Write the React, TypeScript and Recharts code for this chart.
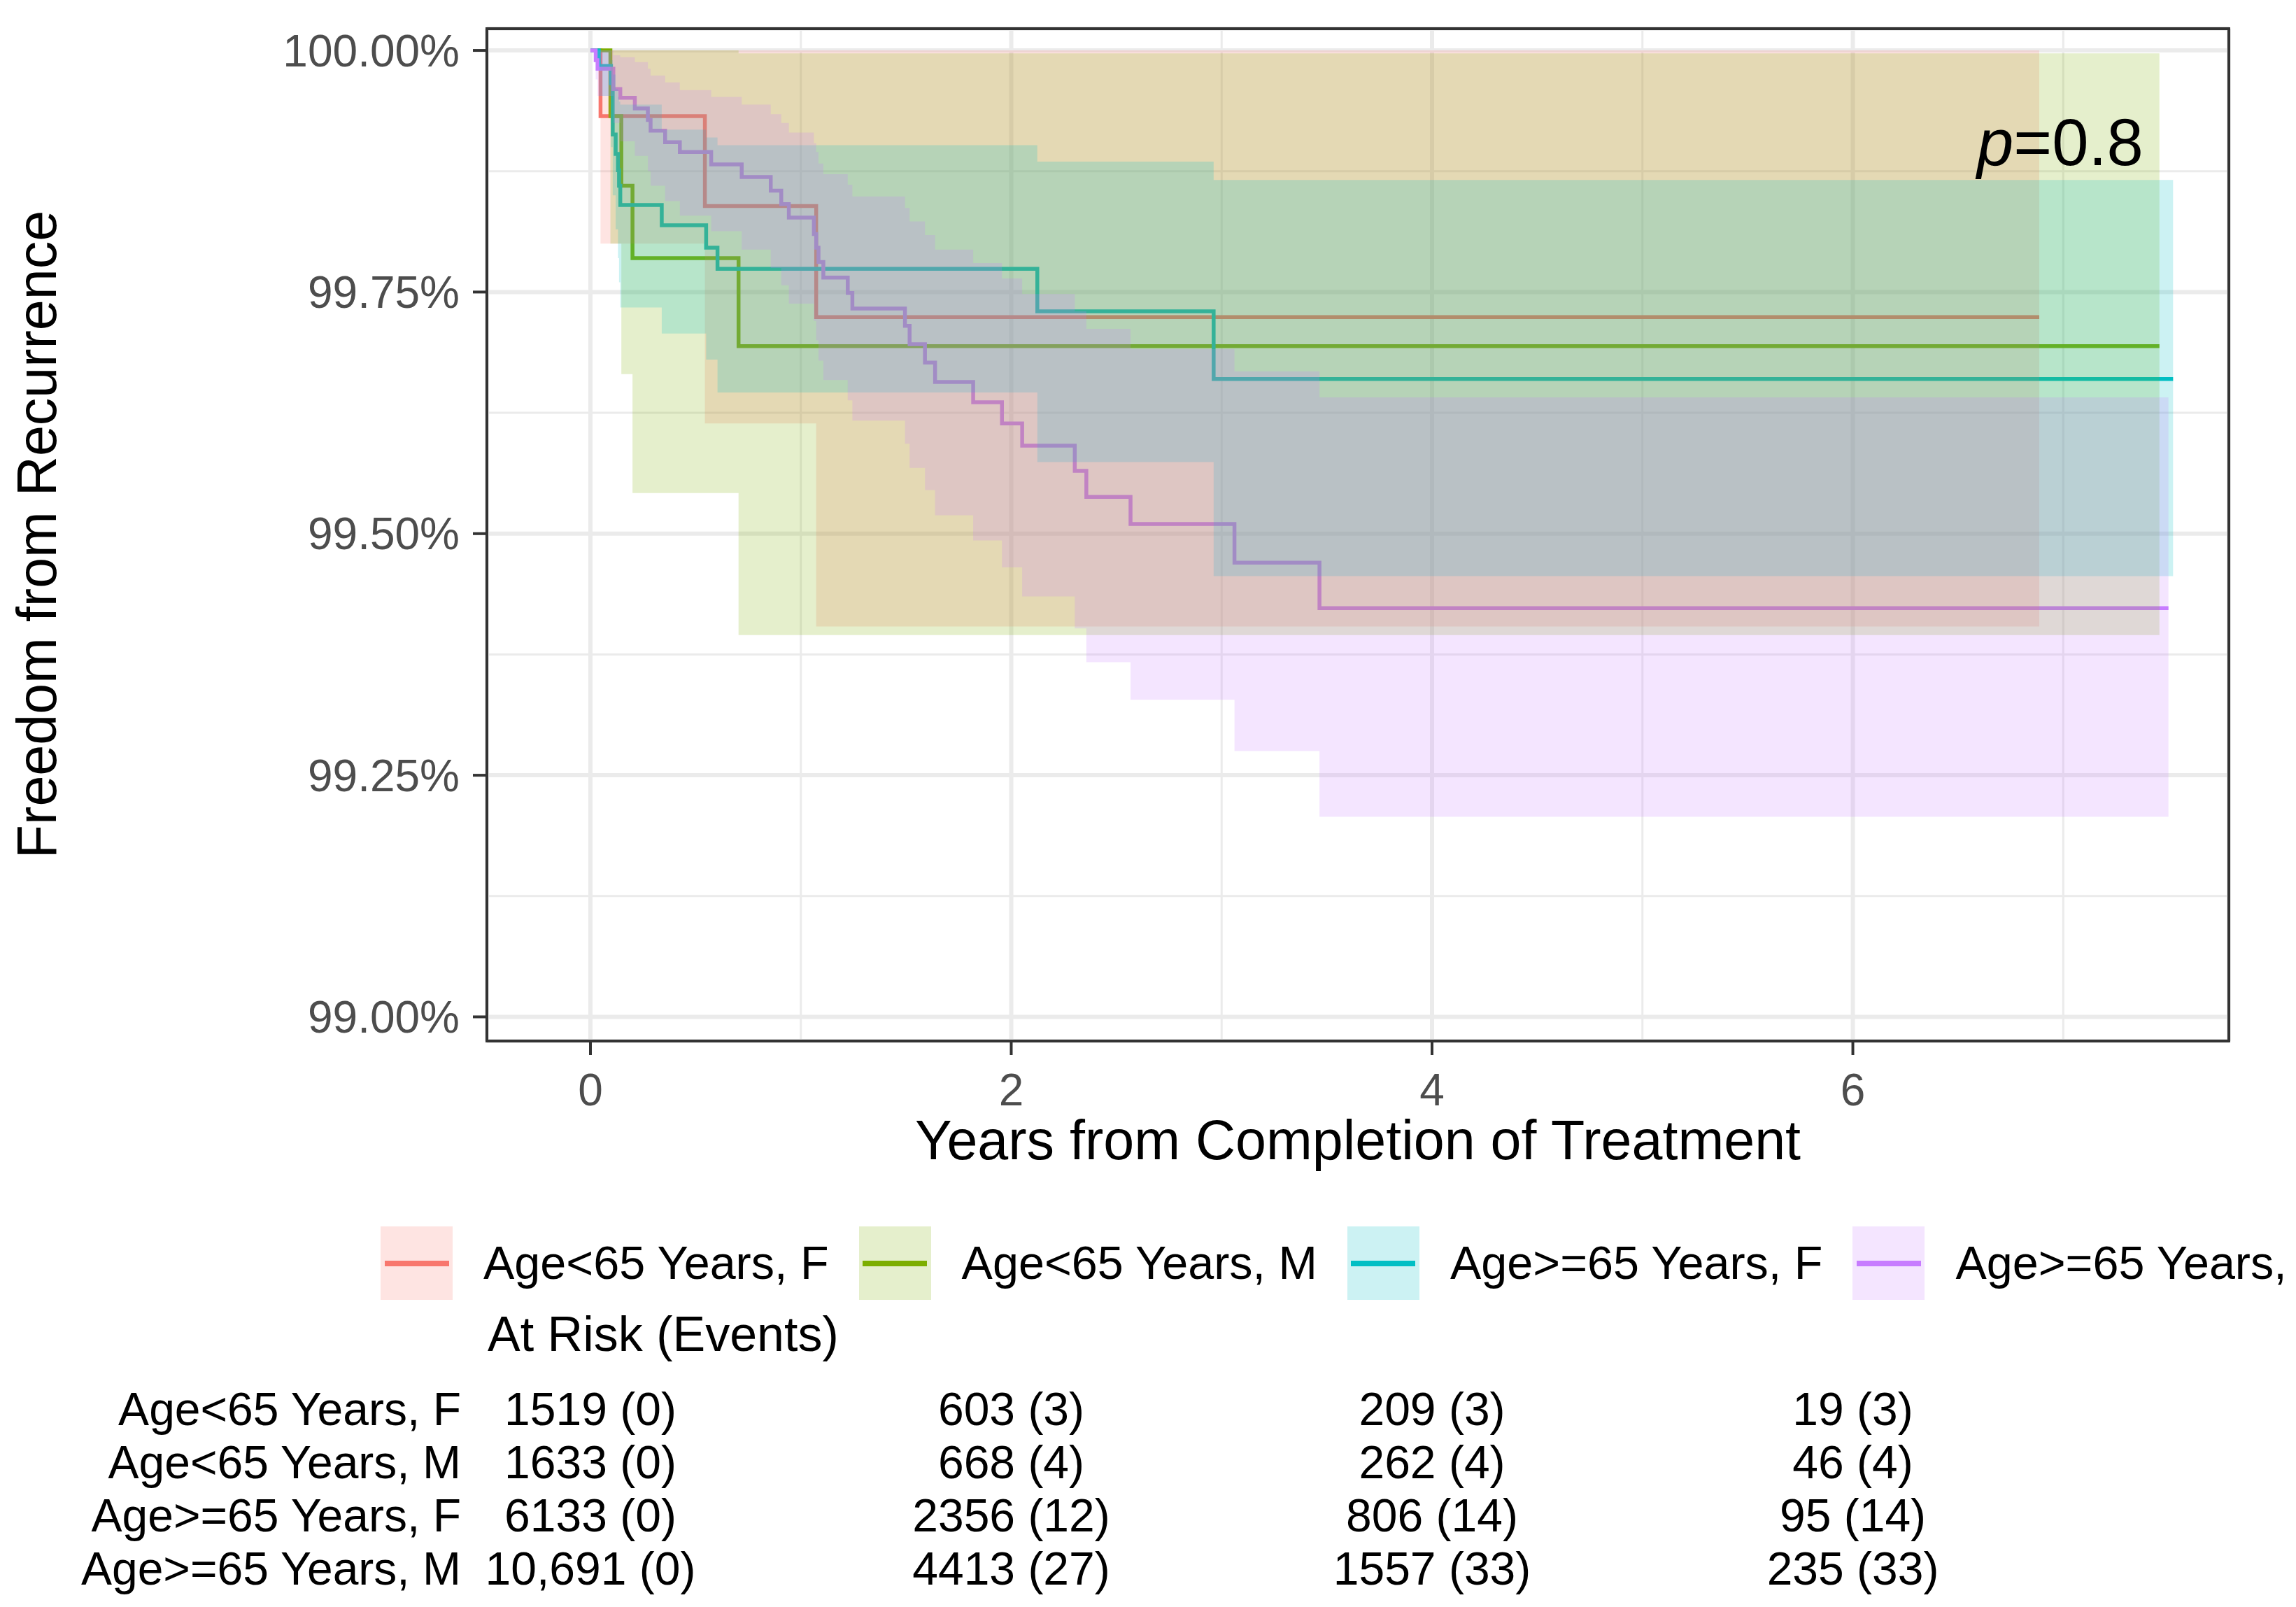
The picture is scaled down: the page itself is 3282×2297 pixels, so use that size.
import React from 'react'
import {
  ComposedChart,
  Line,
  Area,
  Scatter,
  XAxis,
  YAxis,
  CartesianGrid,
  ReferenceLine,
  ReferenceArea,
} from 'recharts'

const groups = ['Age<65 Years, F', 'Age<65 Years, M', 'Age>=65 Years, F', 'Age>=65 Years, M']
const colors = ['#F8766D', '#7CAE00', '#00BFC4', '#C77CFF']

// Age<65 Years, F
const yngFTime = [0, 0.048, 0.544, 1.073, 6.886]
const yngFSurv = [100, 99.932, 99.839, 99.724, 99.724]
const yngFLow = [100, 99.8, 99.614, 99.404, 99.404]
const yngFHigh = [100, 100, 100, 100, 100]

// Age<65 Years, M
const yngMTime = [0, 0.095, 0.147, 0.2, 0.704, 7.457]
const yngMSurv = [100, 99.932, 99.86, 99.785, 99.694, 99.694]
const yngMLow = [100, 99.8, 99.665, 99.542, 99.395, 99.395]
const yngMHigh = [100, 100, 100, 100, 99.997, 99.997]

// Age>=65 Years, F
const oldFTime = [0, 0.04, 0.098, 0.106, 0.12, 0.131, 0.136, 0.142, 0.339, 0.55, 0.604, 2.124, 2.962, 7.522]
const oldFSurv = [100, 99.984, 99.966, 99.913, 99.893, 99.876, 99.86, 99.84, 99.819, 99.796, 99.774, 99.73, 99.66, 99.66]
const oldFLow = [100, 99.953, 99.9, 99.85, 99.815, 99.785, 99.76, 99.734, 99.707, 99.68, 99.646, 99.574, 99.456, 99.456]
const oldFHigh = [100, 100, 99.99, 99.975, 99.96, 99.952, 99.947, 99.944, 99.918, 99.91, 99.902, 99.885, 99.866, 99.866]

// Age>=65 Years, M
const oldMTime = [
  0, 0.025, 0.034, 0.109, 0.142, 0.211, 0.273, 0.286, 0.355, 0.425, 0.574, 0.719, 0.857, 0.907, 0.943, 1.062, 1.073,
  1.084, 1.107, 1.223, 1.245, 1.495, 1.517, 1.59, 1.638, 1.819, 1.956, 2.052, 2.302, 2.357, 2.567, 3.061, 3.465, 7.5,
]
const oldMSurv = [
  100, 99.99, 99.981, 99.96, 99.951, 99.94, 99.928, 99.917, 99.905, 99.895, 99.882, 99.869, 99.855, 99.841, 99.827,
  99.81, 99.796, 99.781, 99.765, 99.749, 99.733, 99.715, 99.696, 99.677, 99.657, 99.636, 99.614, 99.591, 99.565,
  99.538, 99.51, 99.47, 99.423, 99.423,
]
const oldMLow = [
  100, 99.97, 99.953, 99.925, 99.906, 99.891, 99.875, 99.86, 99.844, 99.829, 99.813, 99.794, 99.775, 99.757, 99.738,
  99.72, 99.7, 99.679, 99.659, 99.638, 99.617, 99.593, 99.568, 99.545, 99.519, 99.493, 99.465, 99.435, 99.402,
  99.367, 99.328, 99.275, 99.207, 99.207,
]
const oldMHigh = [
  100, 100, 100, 99.995, 99.993, 99.988, 99.981, 99.974, 99.967, 99.959, 99.952, 99.944, 99.934, 99.925, 99.915,
  99.904, 99.895, 99.883, 99.872, 99.861, 99.849, 99.837, 99.823, 99.809, 99.794, 99.78, 99.764, 99.748, 99.73,
  99.712, 99.691, 99.668, 99.641, 99.641,
]

// number at risk (events) table
const riskTimes = [0, 2, 4, 6]
const yngFRisk = [1519, 603, 209, 19]
const yngFEvents = [0, 3, 3, 3]
const yngMRisk = [1633, 668, 262, 46]
const yngMEvents = [0, 4, 4, 4]
const oldFRisk = [6133, 2356, 806, 95]
const oldFEvents = [0, 12, 14, 14]
const oldMRisk = [10691, 4413, 1557, 235]
const oldMEvents = [0, 27, 33, 33]

const xTicks = [0, 2, 4, 6]
const xMinor = [1, 3, 5, 7]
const yTicks = [99, 99.25, 99.5, 99.75, 100]
const yMinor = [99.125, 99.375, 99.625, 99.875]
const xDomain = [-0.492, 7.787]
const yDomain = [98.975, 100.0225]

const toRows = (time: number[], surv: number[], low: number[], high: number[]) =>
  time.map((t, i) => ({ t, s: surv[i], r: [low[i], high[i]] }))

const series = [
  toRows(yngFTime, yngFSurv, yngFLow, yngFHigh),
  toRows(yngMTime, yngMSurv, yngMLow, yngMHigh),
  toRows(oldFTime, oldFSurv, oldFLow, oldFHigh),
  toRows(oldMTime, oldMSurv, oldMLow, oldMHigh),
]

const fmtRisk = (n: number) => (n >= 10000 ? n.toLocaleString('en-US') : String(n))
const riskRows = [
  [yngFRisk, yngFEvents],
  [yngMRisk, yngMEvents],
  [oldFRisk, oldFEvents],
  [oldMRisk, oldMEvents],
]
const riskCells = riskRows.flatMap(([risk, ev], row) =>
  riskTimes.map((t, j) => ({ t, row, label: `${fmtRisk(risk[j])} (${ev[j]})` }))
)

const FONT = '"Liberation Sans", Arial, sans-serif'
const W = 3282
const H = 1600
// plot panel: x 696..3186, y 41..1488
const panelMargin = { top: 41, right: 96, left: 696, bottom: 112 }
const layer: React.CSSProperties = { position: 'absolute', left: 0, top: 0 }

// hidden axes shared by the stacked layers so every layer uses the same scales
const hiddenAxes = [
  <XAxis key="x" type="number" dataKey="t" domain={xDomain} allowDataOverflow hide />,
  <YAxis key="y" type="number" domain={yDomain} allowDataOverflow hide />,
]

export default function App() {
  return (
    <div
      style={{
        position: 'absolute',
        left: 0,
        top: 0,
        width: W,
        height: 2297,
        overflow: 'hidden',
        background: '#fff',
        fontFamily: FONT,
      }}
    >
      {/* layer 1: grid, axes */}
      <div style={layer}>
        <ComposedChart width={W} height={H} margin={{ top: 41, right: 96, left: 0, bottom: 12 }}>
          <CartesianGrid stroke="#EBEBEB" strokeWidth={6} />
          {xMinor.map((v) => (
            <ReferenceLine key={'vx' + v} x={v} stroke="#EBEBEB" strokeWidth={3} />
          ))}
          {yMinor.map((v) => (
            <ReferenceLine key={'hy' + v} y={v} stroke="#EBEBEB" strokeWidth={3} />
          ))}
          <XAxis
            type="number"
            dataKey="t"
            domain={xDomain}
            ticks={xTicks}
            allowDataOverflow
            height={100}
            tickSize={20}
            tickMargin={27}
            axisLine={false}
            tickLine={{ stroke: '#333333', strokeWidth: 4 }}
            tick={{ fontSize: 64, fill: '#4D4D4D', fontFamily: FONT }}
          />
          <YAxis
            type="number"
            domain={yDomain}
            ticks={yTicks}
            allowDataOverflow
            width={696}
            tickSize={20}
            tickMargin={19}
            axisLine={false}
            tickLine={{ stroke: '#333333', strokeWidth: 4 }}
            tick={{ fontSize: 64, fill: '#4D4D4D', fontFamily: FONT }}
            tickFormatter={(v: number) => v.toFixed(2) + '%'}
          />
        </ComposedChart>
      </div>

      {/* layer 2: survival step lines */}
      <div style={layer}>
        <ComposedChart width={W} height={H} margin={panelMargin}>
          {hiddenAxes}
          {series.map((rows, i) => (
            <Line
              key={'l' + i}
              data={rows}
              dataKey="s"
              type="stepAfter"
              stroke={colors[i]}
              strokeWidth={5.5}
              dot={false}
              activeDot={false}
              isAnimationActive={false}
            />
          ))}
        </ComposedChart>
      </div>

      {/* layer 3: confidence ribbons on top, as in the original */}
      <div style={layer}>
        <ComposedChart width={W} height={H} margin={panelMargin}>
          {hiddenAxes}
          {series.map((rows, i) => (
            <Area
              key={'a' + i}
              data={rows}
              dataKey="r"
              type="stepAfter"
              stroke="none"
              fill={colors[i]}
              fillOpacity={0.2}
              activeDot={false}
              isAnimationActive={false}
            />
          ))}
          <ReferenceArea
            x1={xDomain[0]}
            x2={xDomain[1]}
            y1={yDomain[0]}
            y2={yDomain[1]}
            fill="none"
            stroke="#333333"
            strokeWidth={4}
            ifOverflow="visible"
          />
        </ComposedChart>
      </div>

      {/* p-value */}
      <div style={{ position: 'absolute', left: 2826, top: 157, fontSize: 94, lineHeight: 1, color: '#000', whiteSpace: 'nowrap' }}>
        <i>p</i>=0.8
      </div>

      {/* axis titles */}
      <div
        style={{
          position: 'absolute',
          left: 1941,
          top: 1600,
          transform: 'translateX(-50%)',
          fontSize: 79,
          lineHeight: 0.75,
          whiteSpace: 'nowrap',
          color: '#000',
        }}
      >
        Years from Completion of Treatment
      </div>
      <div
        style={{
          position: 'absolute',
          left: 52,
          top: 764,
          transform: 'translate(-50%, -50%) rotate(-90deg)',
          fontSize: 79,
          lineHeight: 1,
          whiteSpace: 'nowrap',
          color: '#000',
        }}
      >
        Freedom from Recurrence
      </div>

      {/* legend */}
      <div style={{ position: 'absolute', left: 544, top: 1753, display: 'flex', alignItems: 'center', whiteSpace: 'nowrap' }}>
        {groups.map((g, i) => (
          <div key={g} style={{ display: 'flex', alignItems: 'center', marginRight: 43 }}>
            <div
              style={{
                width: 103,
                height: 105,
                background: colors[i] + '33',
                display: 'flex',
                alignItems: 'center',
                justifyContent: 'center',
              }}
            >
              <div style={{ width: 92, height: 8, background: colors[i] }} />
            </div>
            <div style={{ marginLeft: 44, fontSize: 66.5, lineHeight: 1, color: '#000' }}>{g}</div>
          </div>
        ))}
      </div>

      <div style={{ position: 'absolute', left: 697, top: 1872, fontSize: 70, lineHeight: 1, color: '#000', whiteSpace: 'nowrap' }}>
        At Risk (Events)
      </div>

      {/* risk table */}
      <div style={{ position: 'absolute', left: 0, top: 1976 }}>
        <ComposedChart width={W} height={303} margin={{ top: 0, right: 96, left: 0, bottom: 0 }}>
          <XAxis type="number" dataKey="t" domain={xDomain} allowDataOverflow hide />
          <YAxis
            type="number"
            dataKey="row"
            domain={[-0.5, 3.5]}
            ticks={[0, 1, 2, 3]}
            interval={0}
            reversed
            allowDataOverflow
            width={696}
            tickSize={0}
            tickMargin={37}
            axisLine={false}
            tickLine={false}
            tick={{ fontSize: 66, fill: '#000', fontFamily: FONT }}
            tickFormatter={(v: number) => groups[v]}
          />
          <Scatter
            data={riskCells}
            isAnimationActive={false}
            shape={(p: any) => (
              <text x={p.cx} y={p.cy} dy="0.355em" textAnchor="middle" fontSize={66} fill="#000" fontFamily={FONT}>
                {p.payload.label}
              </text>
            )}
          />
        </ComposedChart>
      </div>
    </div>
  )
}
